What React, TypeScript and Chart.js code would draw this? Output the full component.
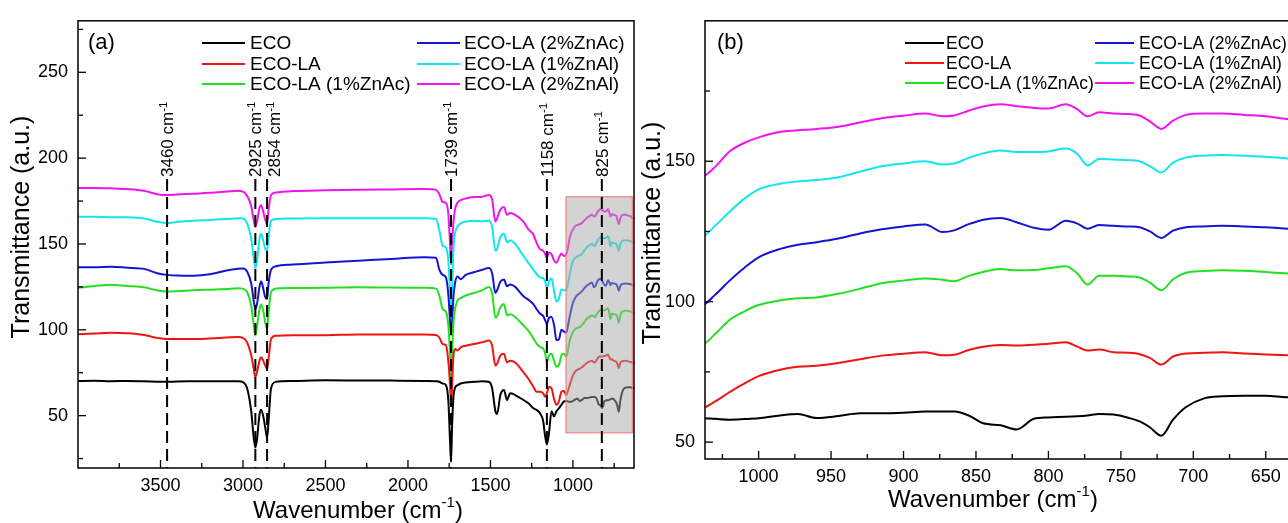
import React, { useEffect, useRef } from 'react';
import { Chart, registerables } from 'chart.js';

Chart.register(...registerables);

const FONT = '"Liberation Sans", Arial, Helvetica, sans-serif';

// ---------------- data ----------------
const wavenumbers = [
  4000, 3900, 3800, 3700, 3600, 3520, 3460, 3400, 3300, 3200, 3100, 3030, 3000, 2975, 2950, 2935, 2925, 2915, 2900, 2890,
  2875, 2865, 2854, 2845, 2830, 2800, 2700, 2500, 2300, 2100, 1900, 1830, 1810, 1790, 1770, 1755, 1745, 1739, 1733, 1725,
  1715, 1700, 1680, 1650, 1600, 1550, 1510, 1490, 1470, 1460, 1440, 1418, 1400, 1380, 1350, 1300, 1270, 1240, 1220, 1200,
  1180, 1170, 1158, 1145, 1130, 1115, 1100, 1085, 1070, 1055,
  1040, 1030, 1020, 1010, 1000, 985, 973, 960, 945, 930, 915, 900, 885, 873, 865, 855, 845, 833, 822, 810,
  800, 788, 780, 773, 765, 755, 745, 737, 730, 722, 714, 705, 693, 680, 665, 650, 635, 630,
];

const seriesLabels = ['ECO', 'ECO-LA', 'ECO-LA (1%ZnAc)', 'ECO-LA (2%ZnAc)', 'ECO-LA (1%ZnAl)', 'ECO-LA (2%ZnAl)'];
const seriesColors = ['#000000', '#f01414', '#22e022', '#1414d2', '#10e6f0', '#f014f0'];

const eco = [
  70.2, 70.3, 70.1, 70.2, 70.0, 69.8, 69.7, 69.9, 70.0, 70.1, 70.1, 70.0, 69.5, 66, 52.5, 37.2, 31.4, 36.2, 50.6, 53.5,
  48.7, 43, 37.2, 46.7, 66, 69.7, 70.2, 70.6, 70.5, 70.4, 70.2, 70, 69.7, 68.7, 67.8, 58.2, 35.1, 23, 42.8, 60,
  66.2, 67.7, 68.7, 69.3, 69.7, 70, 69.7, 66, 52.5, 51, 62, 64.9, 59.1, 63, 62, 59.1, 57.2, 54.3, 53.3, 51.4,
  46.6, 38.9, 33.2, 40, 52.5, 49.6, 52.5, 54.3, 56.3, 58.2,
  58.6, 58.3, 58, 58.2, 58.5, 59.5, 60, 58.6, 59.3, 60.3, 60.3, 60.5, 60.9, 60.9, 60.9, 59.5, 56.7, 56, 54.5, 58.3,
  58.8, 59, 59.2, 59.5, 60, 59.8, 58.7, 57.4, 55.3, 52.3, 58, 62.5, 65.5, 66.3, 66.5, 66.5, 66, 66,
];
const ecoLA = [
  97.4, 97.8, 98.3, 98, 97, 95.3, 94.6, 94.6, 94.6, 95, 95.5, 95.8, 95.3, 92.7, 85, 77.4, 72.5, 75.4, 82, 84,
  81.5, 79.2, 77.3, 83, 94.6, 96.5, 96.9, 96.9, 97.2, 97.2, 97.3, 97, 95.5, 91.7, 91.1, 81.1, 67.7, 56, 66, 84,
  88.8, 87.9, 89.8, 90.7, 91.7, 92.7, 93.7, 90.7, 79.2, 80.2, 85, 86, 81, 82, 81, 75.3, 71.5, 66.8, 63.9, 63.9,
  63, 61, 63, 66.8, 65.9, 60, 56.3, 58.3, 63.9, 64.3,
  62, 64.5, 67.8, 70.8, 73.5, 75.8, 76.8, 77.2, 78.2, 79.5, 80.8, 81.5, 82, 80.9, 81.1, 82.8, 84, 84.6, 84.4, 84.7,
  85, 85.6, 84, 82.6, 83, 82, 81.8, 81.3, 80, 77.6, 80.5, 81.6, 81.8, 82, 81.6, 81.2, 80.9, 80.8,
];
const ecoLA1ZnAc = [
  124.5, 125.5, 126.3, 125.5, 124.8, 123, 122.3, 122.5, 123, 123.4, 123.8, 124.2, 124, 122, 114, 102.8, 96.7, 102, 112, 114.7,
  110, 104, 101, 110, 122, 124, 124.3, 124.5, 124.8, 124.6, 124.5, 124, 120, 112, 110.5, 102, 85, 71, 83, 103,
  112, 117, 118.5, 120, 121.5, 123, 125, 121.5, 107, 108, 113, 115, 108.5, 109, 107.5, 102.5, 99.5, 95, 92, 90,
  89, 87, 81.5, 85, 86, 82, 78.5, 79.5, 85, 86,
  84.5, 88.5, 93.5, 96.5, 98.8, 100.5, 101.2, 101.5, 102.8, 104.6, 106.6, 107.5, 108.3, 107.8, 107.3, 109.2, 110.6, 111.6, 111.2, 111.3,
  111.9, 112.6, 110, 106.1, 109.2, 109.2, 109, 108.6, 106.8, 104.1, 108, 110.3, 110.9, 111.2, 111, 110.6, 110, 109.8,
];
const ecoLA2ZnAc = [
  136.5, 136.5, 136.8, 136.2, 135.5, 133, 132, 131.6, 131.5, 132.3, 134.5, 135.5, 135.7, 134, 127, 117, 112, 115, 125, 128.3,
  123, 119, 118, 127, 135, 137, 138, 139.2, 140.2, 141.3, 142.3, 142, 135, 132, 130.5, 120, 105, 97, 104, 118,
  127, 131, 129.5, 132, 133.5, 135, 136, 133, 121.5, 123, 128, 129.3, 125.4, 126.4, 125, 119.5, 117.5, 115, 112, 109.5,
  108, 106, 103.5, 107, 107.5, 103, 94, 94.5, 100, 99,
  98.5, 102.5, 107.5, 112, 115.8, 118.8, 120.3, 121.2, 122.5, 124.3, 125.8, 126.8, 127.5, 124.8, 125.4, 127.6, 129.2, 129.8, 128.3, 126.3,
  125.6, 128.8, 127.8, 126, 127.3, 127, 126.8, 126.5, 125, 122.7, 125.3, 126.5, 126.8, 127, 126.8, 126.5, 126, 125.8,
];
const ecoLA1ZnAl = [
  165.8, 165.8, 165.6, 165.5, 164.8, 163, 162.2, 162.8, 163.5, 164, 164.6, 165, 164.8, 162, 153, 142, 136, 140, 153, 156,
  151, 147, 146, 154, 163.5, 164.5, 164.8, 165, 165, 165, 165, 164.5, 158, 149, 148, 140, 122, 112, 122, 146,
  156, 160, 162, 163, 163.5, 163.2, 163.5, 160, 146, 147, 154, 156, 151, 152, 150, 143, 139, 135, 132.5, 130.5,
  130, 128.5, 124.5, 128, 130, 123, 116.5, 118, 123.5, 123,
  123, 127, 132, 136.6, 140, 142, 142.8, 143.3, 144.3, 146.3, 148.2, 149.2, 150, 148.8, 149.2, 151.2, 152.8, 153.8, 153.3, 153.3,
  153.5, 154.5, 152.6, 148.5, 150.8, 150.6, 150.4, 150, 148.3, 146, 149.5, 151.3, 152, 152.2, 152, 151.6, 151, 150.8,
];
const ecoLA2ZnAl = [
  182.6, 182.6, 182.4, 182, 181, 179, 178.5, 178.8, 179.3, 179.8, 180.5, 181, 180.5, 178, 172, 164, 160, 163, 171, 172.5,
  168, 164, 161.5, 170, 178.5, 180, 180.8, 181.3, 181.6, 181.8, 182, 181.5, 179, 174.5, 174, 167, 150, 138, 148, 162,
  170, 174, 175.5, 176.5, 177.3, 177.5, 178.5, 176, 163, 165, 170, 171.5, 167, 168, 167, 163, 158.5, 155.5, 150.5, 147,
  146, 144.5, 142, 145, 144, 140.5, 139, 142, 144.5, 143,
  144, 148, 153.5, 156.5, 158.5, 160.5, 161, 161.5, 162.3, 163.8, 165.3, 166.2, 167, 166, 166.3, 168, 169.5, 170.3, 169.6, 169,
  168.8, 170.3, 168.5, 166, 167.4, 167, 166.8, 166.3, 164.2, 161.5, 164.5, 166.5, 167, 167, 166.5, 166, 165, 164.8,
];
const seriesValues = [eco, ecoLA, ecoLA1ZnAc, ecoLA2ZnAc, ecoLA1ZnAl, ecoLA2ZnAl];

const peakPositions = [3460, 2925, 2854, 1739, 1158, 825];
const peakLabels = ['3460', '2925', '2854', '1739', '1158', '825'];
const peakLabelBase = 189; // y value where the rotated labels start

const highlightX = [1042, 640];
const highlightY = [40, 177.5];

const xTicksA = [3500, 3000, 2500, 2000, 1500, 1000];
const xMinorA = [3750, 3250, 2750, 2250, 1750, 1250, 750];
const yTicksA = [50, 100, 150, 200, 250];
const yMinorA = [25, 75, 125, 175, 225, 275];
const xRangeA = [630, 4000];
const yRangeA = [19.5, 280];

const xTicksB = [1000, 950, 900, 850, 800, 750, 700, 650];
const xMinorB = [1025, 975, 925, 875, 825, 775, 725, 675, 625];
const yTicksB = [50, 100, 150];
const yMinorB = [75, 125, 175];
const xRangeB = [625, 1037];
const yRangeB = [44, 200];

// ---------------- drawing helpers ----------------
const PEAK_LABEL_NUDGE = [0, 0, 7, 0, 0, 0]; // px shift right of the rotated labels

type PanelCfg = {
  id: string;
  xRange: number[];
  yRange: number[];
  xTicks: number[];
  xMinor: number[];
  yTicks: number[];
  yMinor: number[];
  padTop: number;
  padRight: number;
  yAxisWidth: number;
  xAxisHeight: number;
  xTickPad: number;
  panelLabel: string;
  panelLabelPos: number[];
  legendRows: number[];
  legendCols: number[][]; // [lineStart, lineEnd, textX]
  legendFont: number;
  xTitlePos: number[];
  yTitlePos: number[];
  showPeaks: boolean;
};

function drawSupText(
  ctx: CanvasRenderingContext2D,
  parts: [string, boolean][],
  size: number,
  supSize: number,
  x: number,
  y: number,
  align: 'left' | 'center',
  baseline: 'middle' | 'alphabetic' = 'middle'
) {
  let total = 0;
  const widths = parts.map(([t, sup]) => {
    ctx.font = `${sup ? supSize : size}px ${FONT}`;
    const w = ctx.measureText(t).width;
    total += w;
    return w;
  });
  let cx = align === 'center' ? x - total / 2 : x;
  ctx.textAlign = 'left';
  ctx.textBaseline = baseline;
  parts.forEach(([t, sup], i) => {
    ctx.font = `${sup ? supSize : size}px ${FONT}`;
    ctx.fillText(t, cx, sup ? y - size * 0.36 : y);
    cx += widths[i];
  });
}

function panelPlugin(cfg: PanelCfg) {
  return {
    id: 'panel_' + cfg.id,
    afterDatasetsDraw(chart: any) {
      const { ctx, chartArea: a, scales } = chart;
      const xs = scales.x;
      const ys = scales.y;
      ctx.save();
      if (cfg.showPeaks) {
        const bx1 = xs.getPixelForValue(highlightX[0]);
        const bx2 = xs.getPixelForValue(highlightX[1]);
        const by1 = ys.getPixelForValue(highlightY[1]);
        const by2 = ys.getPixelForValue(highlightY[0]);
        ctx.fillStyle = 'rgba(168,168,168,0.5)';
        ctx.fillRect(bx1, by1, bx2 - bx1, by2 - by1);
        ctx.strokeStyle = 'rgb(242,130,130)';
        ctx.lineWidth = 1.2;
        ctx.strokeRect(bx1, by1, bx2 - bx1, by2 - by1);

        peakPositions.forEach((p, i) => {
          const x = xs.getPixelForValue(p);
          const yb = ys.getPixelForValue(peakLabelBase);
          ctx.strokeStyle = '#000';
          ctx.lineWidth = 2;
          ctx.setLineDash([12, 6]);
          ctx.beginPath();
          ctx.moveTo(x, yb + 2);
          ctx.lineTo(x, a.bottom);
          ctx.stroke();
          ctx.setLineDash([]);
          ctx.save();
          ctx.translate(x + PEAK_LABEL_NUDGE[i], yb);
          ctx.rotate(-Math.PI / 2);
          ctx.fillStyle = '#000';
          drawSupText(ctx, [[peakLabels[i] + ' cm', false], ['-1', true]], 17, 11.5, 0, 17 * 0.36, 'left', 'alphabetic');
          ctx.restore();
        });
      }
      // frame
      ctx.strokeStyle = '#000';
      ctx.lineWidth = 1.5;
      ctx.strokeRect(a.left, a.top, a.right - a.left, a.bottom - a.top);
      // inner ticks
      ctx.lineWidth = 1.3;
      const tickX = (v: number, len: number) => {
        const x = xs.getPixelForValue(v);
        if (x < a.left || x > a.right) return;
        ctx.beginPath();
        ctx.moveTo(x, a.bottom);
        ctx.lineTo(x, a.bottom - len);
        ctx.stroke();
      };
      const tickY = (v: number, len: number) => {
        const y = ys.getPixelForValue(v);
        if (y < a.top || y > a.bottom) return;
        ctx.beginPath();
        ctx.moveTo(a.left, y);
        ctx.lineTo(a.left + len, y);
        ctx.stroke();
      };
      cfg.xTicks.forEach((v) => tickX(v, 8));
      cfg.xMinor.forEach((v) => tickX(v, 5));
      cfg.yTicks.forEach((v) => tickY(v, 8));
      cfg.yMinor.forEach((v) => tickY(v, 5));
      ctx.restore();
    },
    afterDraw(chart: any) {
      const { ctx } = chart;
      ctx.save();
      ctx.fillStyle = '#000';
      ctx.font = `22px ${FONT}`;
      ctx.textAlign = 'left';
      ctx.textBaseline = 'middle';
      ctx.fillText(cfg.panelLabel, cfg.panelLabelPos[0], cfg.panelLabelPos[1]);
      const ds = chart.data.datasets;
      ds.forEach((d: any, i: number) => {
        const col = cfg.legendCols[Math.floor(i / 3)];
        const y = cfg.legendRows[i % 3];
        ctx.strokeStyle = d.borderColor;
        ctx.lineWidth = 2;
        ctx.beginPath();
        ctx.moveTo(col[0], y);
        ctx.lineTo(col[1], y);
        ctx.stroke();
        ctx.fillStyle = '#000';
        ctx.font = `${cfg.legendFont}px ${FONT}`;
        ctx.textAlign = 'left';
        ctx.textBaseline = 'middle';
        ctx.fillText(d.label, col[2], y + 1);
      });
      ctx.fillStyle = '#000';
      drawSupText(ctx, [['Wavenumber (cm', false], ['-1', true], [')', false]], 24, 15, cfg.xTitlePos[0], cfg.xTitlePos[1], 'center');
      ctx.save();
      ctx.translate(cfg.yTitlePos[0], cfg.yTitlePos[1]);
      ctx.rotate(-Math.PI / 2);
      ctx.font = `25px ${FONT}`;
      ctx.textAlign = 'center';
      ctx.textBaseline = 'middle';
      ctx.fillText('Transmittance (a.u.)', 0, 0);
      ctx.restore();
      ctx.restore();
    },
  };
}

function buildChart(canvas: HTMLCanvasElement, cfg: PanelCfg) {
  const datasets = seriesValues.map((vals, i) => ({
    label: seriesLabels[i],
    data: wavenumbers.map((x, j) => ({ x, y: vals[j] })),
    borderColor: seriesColors[i],
    backgroundColor: seriesColors[i],
    borderWidth: 2,
    pointRadius: 0,
    fill: false,
    cubicInterpolationMode: 'monotone' as const,
  }));
  const tickFont = { family: FONT, size: 18 };
  return new Chart(canvas, {
    type: 'line',
    data: { datasets },
    options: {
      animation: false,
      responsive: false,
      maintainAspectRatio: false,
      events: [],
      layout: { padding: { top: cfg.padTop, right: cfg.padRight, left: 0, bottom: 0 } },
      plugins: { legend: { display: false }, tooltip: { enabled: false } },
      scales: {
        x: {
          type: 'linear',
          reverse: true,
          min: cfg.xRange[0],
          max: cfg.xRange[1],
          grid: { display: false, drawTicks: false },
          border: { display: false },
          ticks: {
            font: tickFont,
            color: '#000',
            padding: cfg.xTickPad,
            maxRotation: 0,
            autoSkip: false,
            callback: (v: any) => String(v),
          },
          afterBuildTicks: (s: any) => {
            s.ticks = cfg.xTicks.map((v) => ({ value: v }));
          },
          afterFit: (s: any) => {
            s.height = cfg.xAxisHeight;
          },
        },
        y: {
          type: 'linear',
          min: cfg.yRange[0],
          max: cfg.yRange[1],
          grid: { display: false, drawTicks: false },
          border: { display: false },
          ticks: {
            font: tickFont,
            color: '#000',
            padding: 10,
            autoSkip: false,
            callback: (v: any) => String(v),
          },
          afterBuildTicks: (s: any) => {
            s.ticks = cfg.yTicks.map((v) => ({ value: v }));
          },
          afterFit: (s: any) => {
            s.width = cfg.yAxisWidth;
          },
        },
      },
    } as any,
    plugins: [panelPlugin(cfg)],
  });
}

const LEFT_W = 636;
const RIGHT_W = 684;

const cfgA: PanelCfg = {
  id: 'a',
  xRange: xRangeA,
  yRange: yRangeA,
  xTicks: xTicksA,
  xMinor: xMinorA,
  yTicks: yTicksA,
  yMinor: yMinorA,
  padTop: 15,
  padRight: 2,
  yAxisWidth: 78,
  xAxisHeight: 55,
  xTickPad: 7,
  panelLabel: '(a)',
  panelLabelPos: [88, 43],
  legendRows: [43, 64, 84],
  legendCols: [
    [202, 245, 250],
    [417, 460, 464],
  ],
  legendFont: 19,
  xTitlePos: [358, 511],
  yTitlePos: [22, 227],
  showPeaks: true,
};

const cfgB: PanelCfg = {
  id: 'b',
  xRange: xRangeB,
  yRange: yRangeB,
  xTicks: xTicksB,
  xMinor: xMinorB,
  yTicks: yTicksB,
  yMinor: yMinorB,
  padTop: 18,
  padRight: 18,
  yAxisWidth: 69,
  xAxisHeight: 64,
  xTickPad: 7,
  panelLabel: '(b)',
  panelLabelPos: [81, 43],
  legendRows: [43, 63, 83],
  legendCols: [
    [269, 308, 310],
    [459, 498, 503],
  ],
  legendFont: 17.5,
  xTitlePos: [357, 500],
  yTitlePos: [17, 233],
  showPeaks: false,
};

export default function App() {
  const refA = useRef<HTMLCanvasElement | null>(null);
  const refB = useRef<HTMLCanvasElement | null>(null);
  useEffect(() => {
    const charts: Chart[] = [];
    if (refA.current) charts.push(buildChart(refA.current, cfgA));
    if (refB.current) charts.push(buildChart(refB.current, cfgB));
    return () => charts.forEach((c) => c.destroy());
  }, []);
  return (
    <div style={{ position: 'fixed', left: 0, top: 0, width: 1288, height: 523, overflow: 'hidden', background: '#fff' }}>
      <canvas ref={refA} width={LEFT_W} height={523} style={{ position: 'absolute', left: 0, top: 0, width: LEFT_W, height: 523 }} />
      <canvas ref={refB} width={RIGHT_W} height={523} style={{ position: 'absolute', left: LEFT_W, top: 0, width: RIGHT_W, height: 523 }} />
    </div>
  );
}
